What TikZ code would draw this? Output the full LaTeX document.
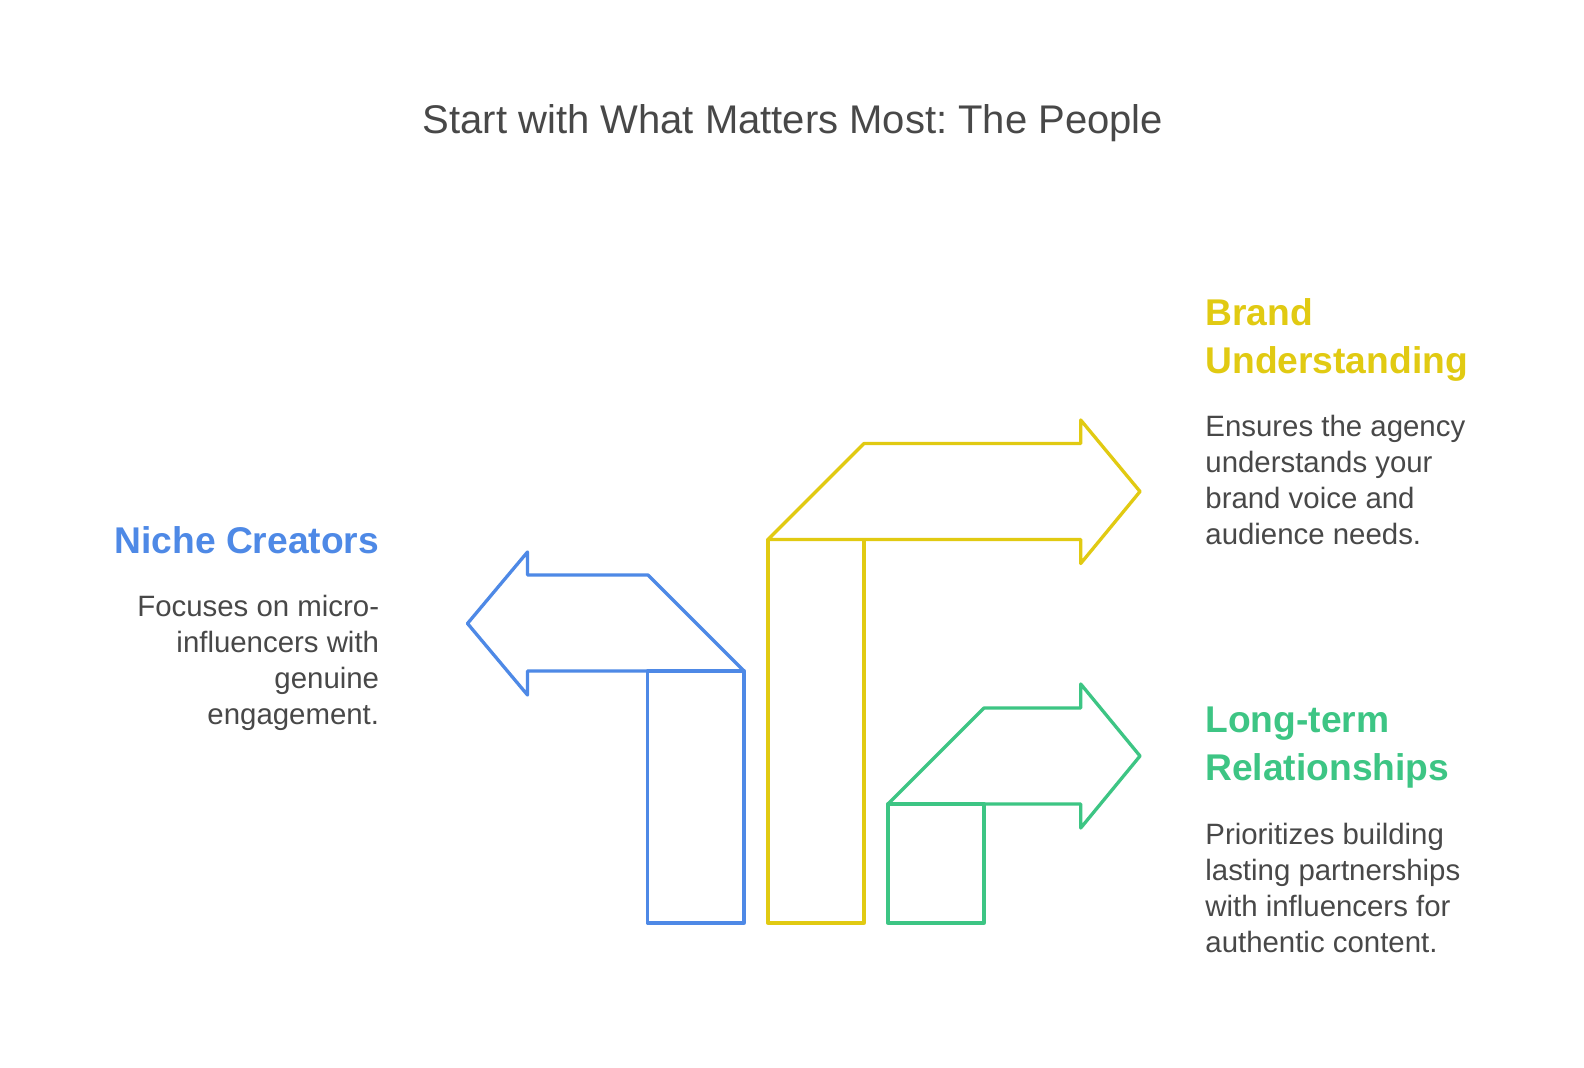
\documentclass[tikz,border=0pt]{standalone}
\usepackage{fontspec}
\setmainfont{Liberation Sans}
\frenchspacing
\newcommand{\rightlines}[1]{\vtop{\halign{\hfil##\cr#1\crcr}}}
\newcommand{\leftlines}[1]{\vtop{\halign{##\hfil\cr#1\crcr}}}
\definecolor{cblue}{HTML}{4E89E6}
\definecolor{cyellow}{HTML}{E1CA12}
\definecolor{cgreen}{HTML}{3DC584}
\definecolor{ctext}{HTML}{484848}
\tikzset{
  shapeline/.style={line width=1.65pt, line join=round, line cap=round},
  titletext/.style={inner sep=0, text=ctext, font=\fontsize{20}{24}\selectfont},
  headtext/.style={inner sep=0, font=\bfseries\fontsize{18.6}{24}\selectfont},
  bodytext/.style={inner sep=0, text=ctext, font=\fontsize{14.7}{18}\selectfont},
}
\begin{document}
\begin{tikzpicture}[x=0.5pt,y=-0.5pt]
\useasboundingbox[fill=white] (0,0) rectangle (1584,1068);

% title
\node[titletext, anchor=base] (title) at (793,134) {Start with What Matters Most: The People};

% blue arrow (left)
\draw[shapeline, cblue] (744,671) -- (648,575) -- (527.5,575) -- (527.5,552) -- (467.5,623.5) -- (527.5,695) -- (527.5,671) -- cycle;
\draw[shapeline, cblue] (647.5,671) rectangle (744,923);

% yellow arrow
\draw[shapeline, cyellow] (768,539.5) -- (864,443.5) -- (1080.7,443.5) -- (1080.7,420) -- (1140,491.5) -- (1080.7,563.5) -- (1080.7,539.5) -- cycle;
\draw[shapeline, cyellow] (768,539.5) rectangle (864,923);

% green arrow
\draw[shapeline, cgreen] (888,804) -- (984,708) -- (1080.7,708) -- (1080.7,684) -- (1140,756) -- (1080.7,828) -- (1080.7,804) -- cycle;
\draw[shapeline, cgreen] (888,804) rectangle (984,923);

% left texts
\node[headtext, text=cblue, anchor=base east] (nicheh) at (379.5,554) {Niche Creators};
\node[bodytext, anchor=base east] (nicheb) at (379.5,617) {\rightlines{Focuses on micro-\cr influencers with\cr genuine\cr engagement.}};

% right texts
\node[headtext, text=cyellow, anchor=base west] (brandh) at (1205,326) {\leftlines{Brand\cr Understanding}};
\node[bodytext, anchor=base west] (brandb) at (1205,437) {\leftlines{Ensures the agency\cr understands your\cr brand voice and\cr audience needs.}};

\node[headtext, text=cgreen, anchor=base west] (longh) at (1205,733) {\leftlines{Long-term\cr Relationships}};
\node[bodytext, anchor=base west] (longb) at (1205,844) {\leftlines{Prioritizes building\cr lasting partnerships\cr with influencers for\cr authentic content.}};
\end{tikzpicture}
\end{document}
